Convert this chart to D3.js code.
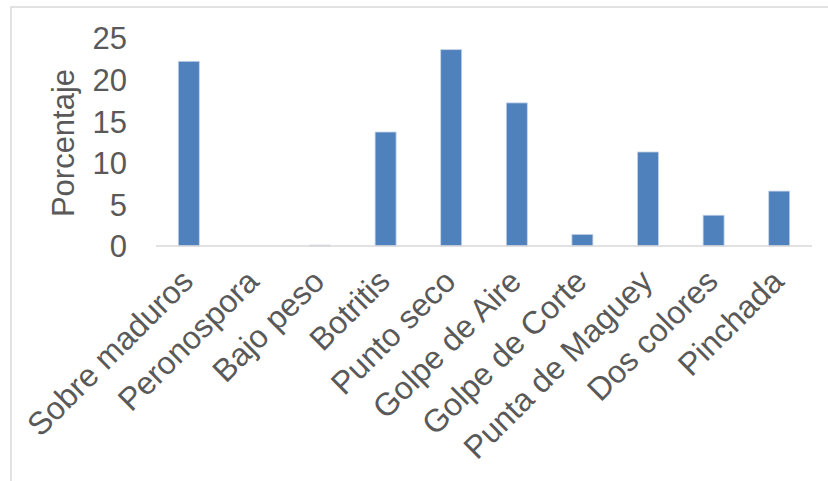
<!DOCTYPE html>
<html><head><meta charset="utf-8">
<script src="https://cdn.jsdelivr.net/npm/d3@7"></script>
<style>body{margin:0;background:#fff;} svg{display:block;}</style>
</head><body>
<svg id="c" width="828" height="481"></svg>
<script>
const categories = ["Sobre maduros","Peronospora","Bajo peso","Botritis","Punto seco","Golpe de Aire","Golpe de Corte","Punta de Maguey","Dos colores","Pinchada"];
const values = [22.2, 0, 0.1, 13.7, 23.6, 17.2, 1.4, 11.3, 3.7, 6.6];
const yTicks = [0,5,10,15,20,25];
const yTitle = "Porcentaje";

const svg = d3.select("#c");
const font = "'Liberation Sans', Arial, sans-serif";
const fs = 31;
const fsx = 32;
const gray = "#595959";

// chart border
svg.append("rect").attr("x",11).attr("y",7).attr("width",840).attr("height",500)
  .attr("fill","none").attr("stroke","#d9d9d9").attr("stroke-width",1.5);

const m = {left:156, right:812, top:38, bottom:246};
const x = d3.scaleBand().domain(categories).range([m.left, m.right]).paddingInner(0.68).paddingOuter(0.34);
const y = d3.scaleLinear().domain([0,25]).range([m.bottom, m.top]);

// bars
svg.selectAll("rect.bar").data(values).enter().append("rect").attr("class","bar")
  .attr("x",(d,i)=>x(categories[i])).attr("width",x.bandwidth())
  .attr("y",d=>y(d)).attr("height",d=>y(0)-y(d))
  .attr("fill","#4f81bd").attr("stroke","#c5d3e8").attr("stroke-width",0.8);

// baseline
svg.append("line").attr("x1",m.left).attr("x2",m.right).attr("y1",y(0)).attr("y2",y(0))
  .attr("stroke","#d9d9d9").attr("stroke-width",1.5);

// y axis labels
const yAxis = d3.axisLeft(y).tickValues(yTicks).tickSize(0).tickPadding(29);
const gy = svg.append("g").attr("transform",`translate(${m.left},0)`).call(yAxis);
gy.select(".domain").remove();
gy.selectAll("text").attr("font-family",font).attr("font-size",fs).attr("fill",gray).attr("dy","0.35em");

// x labels
const xAxis = d3.axisBottom(x).tickSize(0).tickPadding(0);
const gx = svg.append("g").attr("transform",`translate(0,${m.bottom})`).call(xAxis);
gx.select(".domain").remove();
gx.selectAll(".tick text")
  .attr("font-family",font).attr("font-size",fsx).attr("fill",gray)
  .attr("text-anchor","end").attr("y",0).attr("dy","0.72em")
  .attr("transform","translate(-10,21) rotate(-45)");

// y title
svg.append("text").attr("transform","translate(74,143) rotate(-90)")
  .attr("text-anchor","middle").attr("font-family",font).attr("font-size",fs).attr("fill",gray)
  .text(yTitle);
</script>
</body></html>
